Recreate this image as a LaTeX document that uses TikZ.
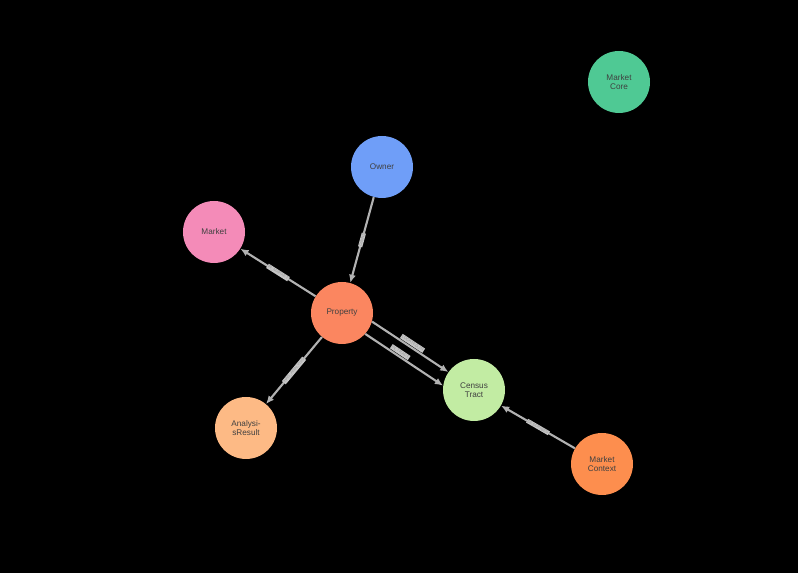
\documentclass[tikz,border=0pt]{standalone}
\usepackage{fontspec}
\setmainfont{Liberation Sans}
\usetikzlibrary{arrows.meta}
\definecolor{coreC}{HTML}{4FC994}
\definecolor{ownerC}{HTML}{6F9EF8}
\definecolor{marketC}{HTML}{F48BB8}
\definecolor{propC}{HTML}{FB8660}
\definecolor{tractC}{HTML}{C2ECA3}
\definecolor{anaC}{HTML}{FDBA85}
\definecolor{ctxC}{HTML}{FD8E4E}
\tikzset{
  ent/.style={circle,minimum size=1.86cm,inner sep=0pt,align=center,font=\fontsize{7}{8}\selectfont,text=black!75},
  rel/.style={-{Latex[length=7pt,width=6pt]},draw=gray!60,line width=1.8pt},
  tag/.style={sloped,fill=gray!45,text=gray!80,inner sep=0.6pt,font=\fontsize{3.5}{4}\selectfont}
}
\begin{document}
\begin{tikzpicture}[x=0.03cm,y=-0.03cm]
 \fill[black] (0,0) rectangle (798,573);
 \node [ent,fill=coreC] (core) at (619,82) {Market\\Core};
 \node [ent,fill=ownerC] (owner) at (382,167) {Owner};
 \node [ent,fill=marketC] (market) at (214,232) {Market};
 \node [ent,fill=propC] (property) at (342,313) {Property};
 \node [ent,fill=tractC] (tract) at (474,390) {Census\\Tract};
 \node [ent,fill=anaC] (analysis) at (246,428) {Analysi-\\sResult};
 \node [ent,fill=ctxC] (context) at (602,464) {Market\\Context};
 \draw [rel] (owner) to node[tag]{OWNS} (property);
 \draw [rel] (property) to node[tag]{IN\_MARKET} (market);
 \draw [rel] (property) to node[tag]{HAS\_ANALYSIS} (analysis);
 \draw [rel] (property.-16) to node[tag,above=0.5pt,pos=0.5]{LOCATED\_IN} (tract.145);
 \draw [rel] (property.-42) to node[tag,above=0.5pt,pos=0.42]{IN\_TRACT} (tract.172);
 \draw [rel] (context) to node[tag]{DESCRIBES} (tract);
\end{tikzpicture}
\end{document}
